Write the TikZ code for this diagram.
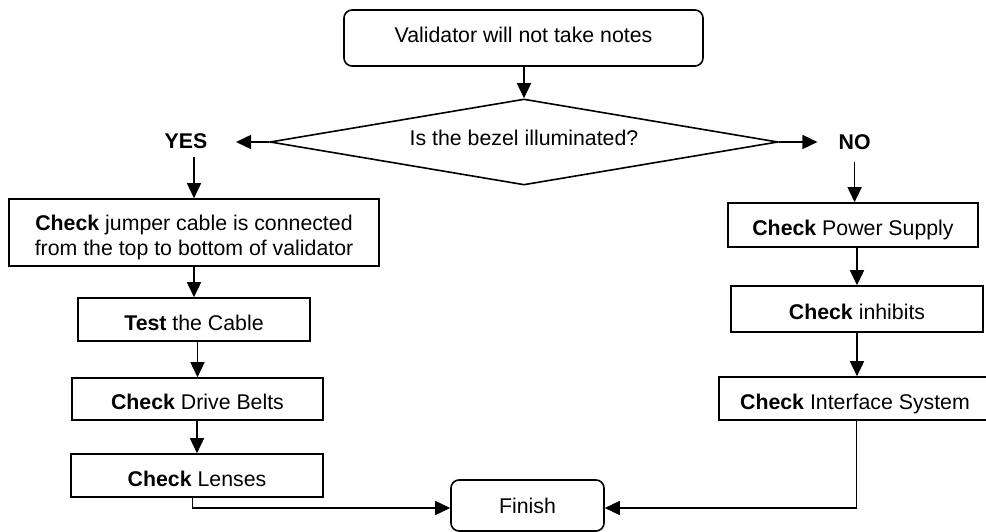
\documentclass[tikz,border=0pt]{standalone}
\usepackage{fontspec}
\setmainfont{Liberation Sans}
\usetikzlibrary{arrows.meta,shapes.geometric}
\begin{document}
\begin{tikzpicture}[x=1pt,y=-1pt,
  every node/.style={font=\fontsize{21.3}{25}\selectfont, inner sep=0pt},
  stepbox/.style={draw, rectangle, line width=1.6pt, text height=21.3pt, text depth=0pt},
  rbox/.style={draw, rectangle, rounded corners=8pt, line width=1.6pt},
  dbox/.style={draw, diamond, shape aspect=5.9, line width=1.6pt},
  lab/.style={font=\fontsize{21.3}{25}\selectfont\bfseries},
  arr/.style={draw, line width=1.6pt, -{Triangle[length=15pt,width=14pt]}}
]
\useasboundingbox[fill=white] (0,0) rectangle (986,532);
\node[rbox, minimum width=359pt, minimum height=56pt, text depth=6pt] (top) at (523.5,38) {Validator will not take notes};
\node[dbox, minimum width=508pt, minimum height=86pt, text depth=8pt] (dia) at (524,142) {Is the bezel illuminated?};
\node[lab] (yes) at (186,141) {YES};
\node[lab] (no) at (854.6,142) {NO};
\node[stepbox, minimum width=370pt, minimum height=67pt, align=center, text height=46.3pt, text depth=0pt] (b1) at (194,232.5) {\textbf{Check} jumper cable is connected\\from the top to bottom of validator};
\node[stepbox, minimum width=232pt, minimum height=43pt] (test) at (194,319.5) {\textbf{Test} the Cable};
\node[stepbox, minimum width=251pt, minimum height=42pt] (drive) at (197.5,399) {\textbf{Check} Drive Belts};
\node[stepbox, minimum width=252pt, minimum height=43pt] (lens) at (197,475.5) {\textbf{Check} Lenses};
\node[rbox, minimum width=153pt, minimum height=51pt] (fin) at (527.5,505.5) {Finish};
\node[stepbox, minimum width=250pt, minimum height=44pt] (pow) at (853,225) {\textbf{Check} Power Supply};
\node[stepbox, minimum width=252pt, minimum height=46pt] (inh) at (857,309) {\textbf{Check} inhibits};
\node[stepbox, minimum width=272pt, minimum height=43pt] (ifc) at (855,398.5) {\textbf{Check} Interface System};
\draw[arr] (top.south -| dia.north) -- (dia.north);
\draw[arr] (dia.west) -- ([xshift=28.5pt]yes.east |- dia.west);
\draw[arr] (dia.east) -- ([xshift=-21pt]no.west |- dia.east);
\draw[arr] (yes.south -| b1.north) ++(0,8) -- (b1.north);
\draw[arr] (no.south) ++(0,12) -- (no.south |- pow.north);
\draw[arr] (b1.south -| test.north) -- (test.north);
\draw[arr] (test.south -| drive.north) -- (drive.north);
\draw[arr] (drive.south -| lens.north) -- (lens.north);
\draw[arr] ([xshift=-4.5pt]lens.south) |- ([yshift=-2.5pt]fin.west);
\draw[arr] (pow.south -| inh.north) -- (inh.north);
\draw[arr] (inh.south) -- (inh.south |- ifc.north);
\draw[arr] ([xshift=1.5pt]ifc.south) |- ([yshift=-2.5pt]fin.east);
\end{tikzpicture}
\end{document}
